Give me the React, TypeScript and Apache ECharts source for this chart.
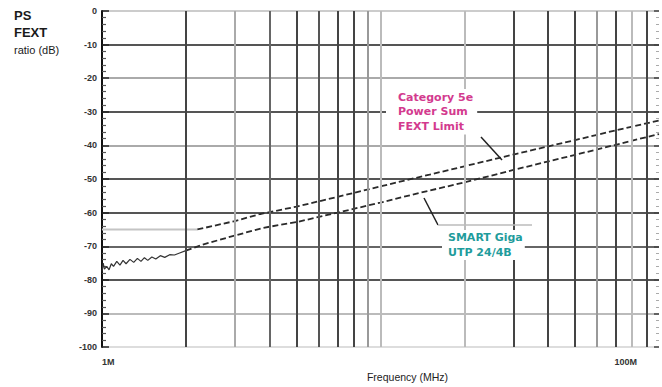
import React, { useEffect, useRef } from "react";
import * as echarts from "echarts";

// ---- data ----
const yTickValues = [0, -10, -20, -30, -40, -50, -60, -70, -80, -90, -100];
const xLabelFreqs = [1, 100]; // MHz
const freqGridLines = [2, 3, 4, 5, 6, 7, 8, 9, 10, 20, 30, 40, 50, 60, 70, 80, 90];

// Category 5e Power Sum FEXT limit: flat part then sloped part
const cat5eFlat: [number, number][] = [
  [1, -65],
  [2.2, -65],
];
const cat5eLimit: [number, number][] = [
  [2.2, -65],
  [3, -62.5],
  [3.7, -60.4],
  [5, -58.2],
  [7, -55.3],
  [10, -52.2],
  [12.4, -50.3],
  [15, -48.7],
  [20, -46.2],
  [30, -42.7],
  [50, -38.4],
  [70, -35.5],
  [100, -32.6],
];

// SMART Giga UTP 24/4B measured curve
const smartNoise: [number, number][] = [
  [1.0, -77.5],
  [1.01, -75.0],
  [1.02, -76.8],
  [1.04, -76.0],
  [1.06, -77.0],
  [1.08, -75.2],
  [1.1, -76.0],
  [1.13, -74.5],
  [1.16, -75.6],
  [1.19, -74.2],
  [1.22, -75.2],
  [1.26, -73.9],
  [1.3, -74.8],
  [1.34, -73.6],
  [1.38, -74.5],
  [1.42, -73.4],
  [1.46, -74.2],
  [1.51, -73.2],
  [1.56, -73.8],
  [1.62, -72.8],
  [1.68, -73.3],
  [1.75, -72.5],
  [1.82, -72.6],
  [1.9, -72.0],
  [2.0, -71.3],
];
const smartGiga: [number, number][] = [
  [2.0, -71.3],
  [2.3, -69.5],
  [3, -66.8],
  [3.8, -64.5],
  [5, -62.8],
  [7, -60.0],
  [10, -57.0],
  [14, -54.0],
  [20, -51.0],
  [30, -47.3],
  [50, -42.8],
  [70, -39.8],
  [100, -36.6],
];

// ---- styles ----
const vGridShades = ["#444", "#aaa", "#666", "#444", "#555", "#444", "#444", "#999", "#bbb", "#bbb", "#444", "#444", "#444", "#999", "#444", "#bbb", "#444"];
// ordered from -100 (bottom) to 0 (top)
const hGridShades = ["#ddd", "#bbb", "#555", "#666", "#555", "#555", "#aaa", "#555", "#aaa", "#555", "#ccc"];

export default function App() {
  const ref = useRef<HTMLDivElement>(null);

  useEffect(() => {
    if (!ref.current) return;
    const chart = echarts.init(ref.current, undefined, { renderer: "svg" });
    const font = "Liberation Sans, Arial, sans-serif";
    const lineColor = "#2a2a2a";

    chart.setOption({
      animation: false,
      backgroundColor: "#fff",
      grid: { left: 102, right: 3, top: 11, bottom: 32, containLabel: false },
      xAxis: {
        type: "log",
        logBase: 10,
        min: 1,
        max: 100,
        axisLine: { show: false },
        axisTick: { show: false },
        splitLine: { show: false },
        minorSplitLine: { show: false },
        axisLabel: {
          margin: 10,
          fontSize: 9,
          fontWeight: "bold",
          color: "#333",
          fontFamily: font,
          alignMinLabel: "left",
          alignMaxLabel: "right",
          formatter: (v: number) =>
            v === xLabelFreqs[0] ? "1M" : v === xLabelFreqs[1] ? "{r|100M}" : "",
          rich: {
            r: { padding: [0, 22, 0, 0], fontSize: 9, fontWeight: "bold", color: "#333", fontFamily: font },
          },
        },
        name: "Frequency (MHz)",
        nameLocation: "middle",
        nameGap: 22,
        nameTextStyle: { fontSize: 10.5, color: "#222", fontFamily: font, padding: [0, 0, 0, 54] },
      },
      yAxis: [
        {
          type: "value",
          min: -100,
          max: 0,
          interval: 10,
          axisLine: { show: true, lineStyle: { color: "#111", width: 2 } },
          axisTick: { show: true, inside: true, length: 7, lineStyle: { color: "#222", width: 1.5 } },
          minorTick: { show: true, splitNumber: 5, length: 4, lineStyle: { color: "#555", width: 1.2 } },
          axisLabel: {
            fontSize: 9,
            fontWeight: "bold",
            color: "#333",
            fontFamily: font,
            margin: 5,
            formatter: (v: number) => (yTickValues.includes(v) ? String(v) : ""),
          },
          splitLine: { show: true, lineStyle: { color: hGridShades, width: 2 } },
        },
        {
          type: "value",
          position: "right",
          min: -100,
          max: 0,
          interval: 10,
          axisLine: { show: false },
          axisTick: { show: true, inside: true, length: 5, lineStyle: { color: "#444", width: 1.5 } },
          minorTick: { show: true, splitNumber: 5, length: 3, lineStyle: { color: "#aaa", width: 1 } },
          axisLabel: { show: false },
          splitLine: { show: false },
        },
      ],
      series: [
        {
          type: "line",
          data: [],
          z: 1,
          silent: true,
          markLine: {
            silent: true,
            symbol: "none",
            label: { show: false },
            emphasis: { disabled: true },
            data: freqGridLines.map((f, i) => ({
              xAxis: f,
              lineStyle: { color: vGridShades[i], width: 2, type: "solid" },
            })),
          },
        },
        {
          name: "Cat5e flat",
          type: "line",
          data: cat5eFlat,
          showSymbol: false,
          z: 3,
          lineStyle: { color: "#c4c4c4", width: 2, type: "solid" },
        },
        {
          name: "Category 5e Power Sum FEXT Limit",
          type: "line",
          data: cat5eLimit,
          showSymbol: false,
          z: 3,
          lineStyle: { color: lineColor, width: 1.8, type: [6, 3] },
        },
        {
          name: "SMART noise",
          type: "line",
          data: smartNoise,
          showSymbol: false,
          z: 3,
          lineStyle: { color: "#333", width: 1.2, type: "solid" },
        },
        {
          name: "SMART Giga UTP 24/4B",
          type: "line",
          data: smartGiga,
          showSymbol: false,
          z: 3,
          lineStyle: { color: lineColor, width: 1.8, type: [6, 3] },
        },
      ],
      graphic: [
        { type: "text", left: 14, top: 9, style: { text: "PS", fontSize: 13, fontWeight: "bold", fill: "#1a1a1a", fontFamily: font } },
        { type: "text", left: 14, top: 26, style: { text: "FEXT", fontSize: 13, fontWeight: "bold", fill: "#1a1a1a", fontFamily: font } },
        { type: "text", left: 14, top: 44, style: { text: "ratio (dB)", fontSize: 11, fill: "#1a1a1a", fontFamily: font } },
        // Category 5e annotation
        {
          type: "line",
          z: 20,
          shape: { x1: 481, y1: 137, x2: 502, y2: 160 },
          style: { stroke: "#222", lineWidth: 1.5 },
        },
        {
          type: "text",
          z: 20,
          x: 386,
          y: 89,
          style: {
            text: "Category 5e\nPower Sum\nFEXT Limit",
            fontSize: 11,
            fontWeight: "bold",
            lineHeight: 14.5,
            fill: "#d33a8e",
            fontFamily: "DejaVu Sans, sans-serif",
            backgroundColor: "#fff",
            padding: [1, 4, 1, 12],
          },
        },
        // SMART Giga annotation
        {
          type: "polyline",
          z: 20,
          shape: { points: [[424, 198], [438, 225]] },
          style: { stroke: "#222", lineWidth: 1.5, fill: "none" },
        },
        {
          type: "line",
          z: 20,
          shape: { x1: 438, y1: 225, x2: 532, y2: 225 },
          style: { stroke: "#bbb", lineWidth: 1.5 },
        },
        {
          type: "text",
          z: 20,
          x: 442,
          y: 230,
          style: {
            text: "SMART Giga\nUTP 24/4B",
            fontSize: 11,
            fontWeight: "bold",
            lineHeight: 15,
            fill: "#1f9c9c",
            fontFamily: "DejaVu Sans, sans-serif",
            backgroundColor: "#fff",
            padding: [0, 2, 0, 6],
          },
        },
      ],
    });

    return () => chart.dispose();
  }, []);

  return <div ref={ref} style={{ width: 662, height: 387, position: "absolute", left: 0, top: 0 }} />;
}
